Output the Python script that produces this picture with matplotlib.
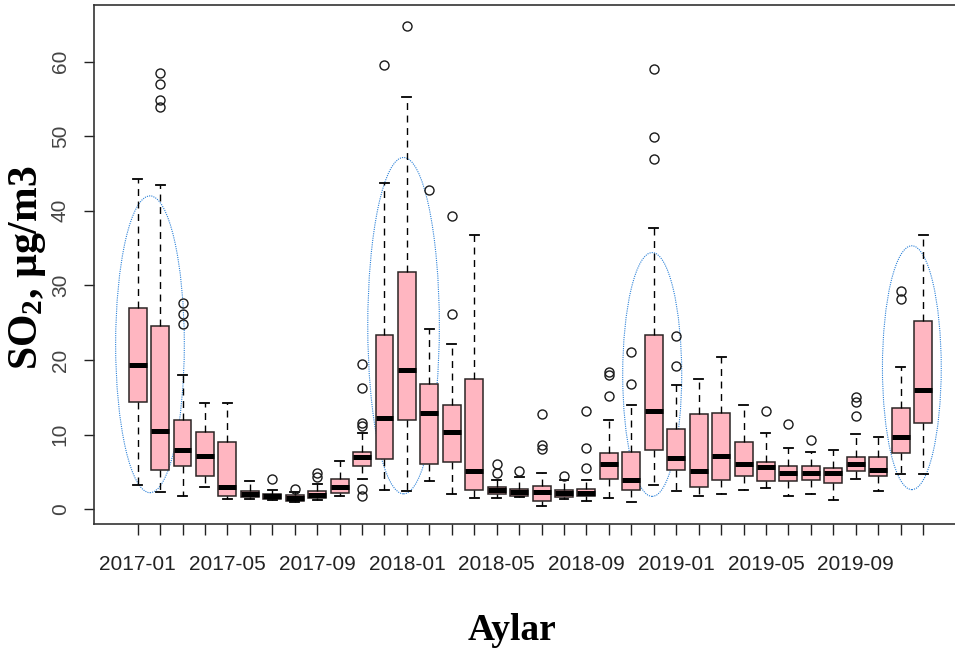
import matplotlib.pyplot as plt
from matplotlib.patches import Ellipse

plt.rcParams['mathtext.fontset'] = 'custom'
plt.rcParams['mathtext.rm'] = 'Liberation Serif:bold'
plt.rcParams['mathtext.it'] = 'Liberation Serif:bold'
plt.rcParams['mathtext.bf'] = 'Liberation Serif:bold'

# monthly SO2 box statistics, 2017-01 .. 2019-12
whi = [44.2, 43.5, 18.0, 14.2, 14.2, 3.8, 2.6, 2.3, 3.4, 6.5, 10.2, 43.7,
       55.2, 24.1, 22.2, 36.8, 3.9, 4.3, 4.9, 3.9, 3.9, 11.9, 13.9, 37.7,
       16.7, 17.4, 20.4, 13.9, 10.2, 8.2, 7.7, 7.9, 10.1, 9.7, 19.1, 36.8]
q3 = [26.9, 24.5, 12.0, 10.3, 9.0, 2.4, 2.0, 1.9, 2.4, 4.0, 7.7, 23.3,
      31.8, 16.8, 14.0, 17.4, 3.0, 2.7, 3.1, 2.6, 2.7, 7.5, 7.7, 23.3,
      10.7, 12.7, 12.9, 9.0, 6.3, 5.8, 5.8, 5.5, 7.0, 7.0, 13.5, 25.2]
med = [19.3, 10.5, 7.9, 7.1, 3.0, 2.0, 1.7, 1.5, 1.95, 3.0, 6.95, 12.2,
       18.7, 12.9, 10.3, 5.1, 2.5, 2.3, 2.3, 2.1, 2.1, 6.0, 3.9, 13.1,
       6.8, 5.1, 7.1, 6.0, 5.6, 4.9, 4.8, 4.8, 6.0, 5.2, 9.7, 16.0]
q1 = [14.4, 5.2, 5.8, 4.5, 1.7, 1.6, 1.4, 1.1, 1.5, 2.2, 5.8, 6.7,
      12.0, 6.0, 6.3, 2.6, 2.0, 1.8, 1.1, 1.6, 1.7, 4.0, 2.6, 7.9,
      5.2, 3.0, 3.9, 4.5, 3.8, 3.8, 3.9, 3.5, 5.1, 4.5, 7.5, 11.5]
wlo = [3.2, 2.3, 1.7, 3.0, 1.4, 1.4, 1.2, 1.0, 1.2, 1.7, 4.0, 2.5,
       2.4, 3.8, 2.0, 1.5, 1.5, 1.6, 0.4, 1.3, 1.1, 1.5, 0.9, 3.2,
       2.4, 1.7, 2.0, 2.6, 2.8, 1.7, 2.0, 1.2, 4.1, 2.4, 4.7, 4.7]
fliers = [[], [58.5, 57.0, 54.8, 53.9], [27.7, 26.1, 24.8], [], [], [],
          [4.0], [2.7], [4.8, 4.3], [], [19.4, 16.2, 11.5, 11.2, 2.7, 1.7], [59.5],
          [64.8], [42.8], [39.3, 26.2], [], [6.0, 4.9], [5.1],
          [12.7, 8.6, 8.0], [4.5], [13.1, 8.2, 5.5], [18.4, 18.0, 15.1], [21.1, 16.8], [59.0, 49.9, 47.0],
          [23.2, 19.2], [], [], [], [13.1], [11.4],
          [9.3], [], [15.0, 14.3, 12.5], [], [29.3, 28.2], []]

xlabels = ['2017-01', '2017-05', '2017-09', '2018-01', '2018-05',
           '2018-09', '2019-01', '2019-05', '2019-09']

# highlighted winter periods: centre x, centre y, width, height
ell_x = [1.55, 12.85, 23.93, 35.5]
ell_y = [22.1, 24.6, 18.05, 18.96]
ell_w = [3.06, 3.19, 2.63, 2.62]
ell_h = [39.8, 45.1, 32.7, 32.7]

stats = []
for i in range(len(med)):
    stats.append(dict(med=med[i], q1=q1[i], q3=q3[i], whislo=wlo[i],
                      whishi=whi[i], fliers=fliers[i]))

fig = plt.figure(figsize=(9.55, 6.49), dpi=100)
ax = fig.add_axes([94.1 / 955, 125 / 649, 872.5 / 955, 519 / 649])

edge = '#2b2424'
ax.bxp(stats, positions=range(1, 37), widths=0.8, capwidths=0.4,
       patch_artist=True,
       boxprops=dict(facecolor='#ffb6c1', edgecolor=edge, linewidth=1.1),
       medianprops=dict(color='black', linewidth=3.6, solid_capstyle='butt'),
       whiskerprops=dict(color='black', linewidth=1.0, linestyle=(0, (5, 4))),
       capprops=dict(color='black', linewidth=1.3),
       flierprops=dict(marker='o', markerfacecolor='none', markeredgecolor='#1a1a1a',
                       markersize=6.5, markeredgewidth=1.0))

for i in range(len(ell_x)):
    ax.add_patch(Ellipse((ell_x[i], ell_y[i]), ell_w[i], ell_h[i], fill=False,
                         edgecolor='#2a80d8', linewidth=0.8, linestyle=(0, (1, 1))))

ax.set_xlim(-0.94, 37.94)
ax.set_ylim(-2.0, 67.6)

ax.set_xticks(range(1, 37))
ax.set_xticklabels([xlabels[(i - 1) // 4] if (i - 1) % 4 == 0 else '' for i in range(1, 37)],
                   fontfamily='Liberation Sans', fontsize=15, color='#222222')
ax.set_yticks([0, 10, 20, 30, 40, 50, 60])
ax.set_yticklabels(['0', '10', '20', '30', '40', '50', '60'], rotation=90, va='center',
                   fontfamily='Liberation Sans', fontsize=15, color='#444444')
ax.tick_params(axis='x', length=8, width=1, color='#222222', pad=14)
ax.tick_params(axis='y', length=7.5, width=1, color='#222222', pad=10)

for s in ax.spines.values():
    s.set_color('#333333')
    s.set_linewidth(1.2)

fig.text(27 / 955, 1 - 268 / 649, r'SO$_2$, µg/m3', rotation=90, ha='center', va='center',
         fontfamily='Liberation Serif', fontweight='bold', fontsize=30)
fig.text(512 / 955, 1 - 630 / 649, 'Aylar', ha='center', va='center',
         fontfamily='Liberation Serif', fontweight='bold', fontsize=27)

fig.savefig('out.png', dpi=100)
